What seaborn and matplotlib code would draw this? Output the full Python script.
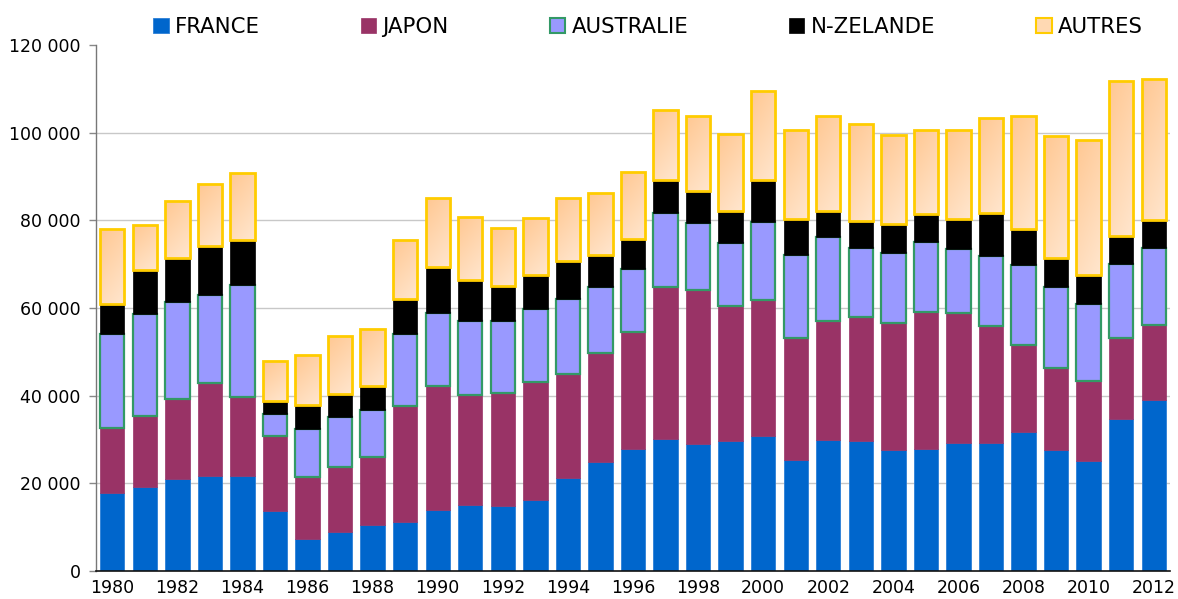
import numpy as np
import pandas as pd
import matplotlib
matplotlib.use('Agg')
import matplotlib.pyplot as plt
import seaborn as sns
from matplotlib.colors import LinearSegmentedColormap
from matplotlib.patches import Patch

# Data (thousands of visitors)
years = [str(y) for y in range(1980, 2013)]
france = [17.9, 19.2, 20.9, 21.6, 21.6, 13.6, 7.3, 9.0, 10.6, 11.2, 14.0, 15.1, 14.9, 16.1,
          21.3, 24.9, 27.8, 30.2, 29.0, 29.6, 30.8, 25.3, 30.0, 29.6, 27.5, 27.8, 29.1, 29.3,
          31.6, 27.5, 25.2, 34.7, 38.9]
japon = [14.7, 16.2, 18.3, 21.4, 18.1, 17.2, 14.1, 14.8, 15.3, 26.5, 28.1, 25.0, 25.6, 27.0,
         23.6, 24.9, 26.7, 34.5, 35.0, 30.9, 31.0, 27.9, 27.1, 28.3, 29.0, 31.3, 29.7, 26.6,
         20.0, 18.8, 18.2, 18.4, 17.3]
australie = [21.5, 23.3, 22.1, 20.0, 25.6, 5.0, 11.1, 11.3, 10.8, 16.3, 16.7, 17.0, 16.6, 16.6,
             17.1, 15.1, 14.4, 16.9, 15.5, 14.4, 17.8, 19.0, 19.0, 15.7, 16.0, 15.9, 14.6, 15.9,
             18.2, 18.4, 17.4, 16.9, 17.4]
nzelande = [6.8, 9.9, 10.1, 11.1, 10.1, 3.0, 5.3, 5.3, 5.5, 8.0, 10.6, 9.3, 7.9, 7.8,
            8.8, 7.3, 6.8, 7.7, 7.2, 7.2, 9.6, 8.0, 6.1, 6.2, 6.6, 6.4, 6.8, 9.8,
            8.3, 6.7, 6.7, 6.5, 6.5]
autres = [17.2, 10.3, 13.1, 14.1, 15.3, 9.0, 11.4, 13.3, 12.9, 13.5, 15.7, 14.4, 13.2, 13.1,
          14.3, 14.0, 15.4, 15.8, 17.1, 17.7, 20.4, 20.3, 21.7, 22.2, 20.4, 19.2, 20.3, 21.8,
          25.6, 27.9, 30.9, 35.3, 32.1]

series = {
    'FRANCE': france,
    'JAPON': japon,
    'AUSTRALIE': australie,
    'N-ZELANDE': nzelande,
    'AUTRES': autres,
}
styles = {
    'FRANCE': dict(color='#0066CC', edgecolor='#2C7FD6', linewidth=0.6),
    'JAPON': dict(color='#993366', edgecolor='#993366', linewidth=0.5),
    'AUSTRALIE': dict(color='#9999FF', edgecolor='#339966', linewidth=1.6),
    'N-ZELANDE': dict(color='#000000', edgecolor='#000000', linewidth=0.5),
    'AUTRES': dict(color='#FFD9B3', edgecolor='#FFCC00', linewidth=2.0),
}

sns.set_style('white')
plt.rcParams['font.family'] = ['DejaVu Sans']

fig = plt.figure(figsize=(11.78, 5.99), dpi=100)
ax = fig.add_axes([96 / 1178, 1 - 571 / 599, (1170 - 96) / 1178, (571 - 45) / 599])

bottom = np.zeros(len(years))
for name, vals in series.items():
    vals = np.array(vals) * 1000
    sns.barplot(x=years, y=vals, bottom=bottom, order=years, width=0.75,
                errorbar=None, ax=ax, saturation=1, **styles[name])
    bottom = bottom + vals

# gradient fill for AUTRES bars
cmap = LinearSegmentedColormap.from_list('peach', ['#FFC893', '#FFE6CE'])
gy, gx = np.mgrid[0:1:60j, 0:1:12j]
grad = (gy * 0.7 + gx * 0.3)
for p in ax.containers[-1]:
    x0, y0 = p.get_x(), p.get_y()
    w, h = p.get_width(), p.get_height()
    im = ax.imshow(grad, cmap=cmap, extent=(x0, x0 + w, y0, y0 + h), origin='upper',
                   aspect='auto', zorder=0.9, interpolation='bilinear')
    im.set_clip_path(p)
    p.set_facecolor('none')
    p.set_zorder(1)

ax.set_xlim(-0.5, len(years) - 0.5)
ax.set_ylim(0, 120000)

# y axis
yticks = np.arange(0, 120001, 20000)
ax.set_yticks(yticks)
ax.set_yticklabels([f'{v:,.0f}'.replace(',', ' ') for v in yticks], fontsize=12.5, color='black')
ax.yaxis.grid(True, color='#C8C8C8', linewidth=1)
ax.set_axisbelow(True)
ax.get_ygridlines()[-1].set_visible(False)
ax.get_ygridlines()[0].set_visible(False)

# x axis: labels every two years, ticks between categories
ax.set_xticks(np.arange(0, len(years), 2))
ax.set_xticklabels(years[::2], fontsize=12.5, color='black')
ax.set_xticks(np.arange(-0.5, len(years), 1), minor=True)
ax.tick_params(axis='x', which='major', length=0, pad=6)
ax.tick_params(axis='x', which='minor', length=6, width=1, color='#333333', direction='out')
ax.tick_params(axis='y', length=5, width=1, color='#888888', direction='out', left=True, pad=6)
ax.set_xlabel('')
ax.set_ylabel('')

for s in ['top', 'right']:
    ax.spines[s].set_visible(False)
ax.spines['left'].set_color('#777777')
ax.spines['bottom'].set_color('#111111')
ax.spines['left'].set_linewidth(1)
ax.spines['bottom'].set_linewidth(1.2)

# legend across the top
handles = []
for name in series:
    st = styles[name]
    handles.append(Patch(facecolor=st['color'], edgecolor=st['edgecolor'],
                         linewidth=min(st['linewidth'], 1.5), label=name))
fig.legend(handles=handles, loc='center', bbox_to_anchor=(648 / 1178, 1 - 27 / 599), ncol=5,
           frameon=False, fontsize=15.3, handlelength=0.72, handleheight=0.72,
           handletextpad=0.3, columnspacing=4.75, borderaxespad=0, labelcolor='black')

fig.savefig('out.png', dpi=100)
